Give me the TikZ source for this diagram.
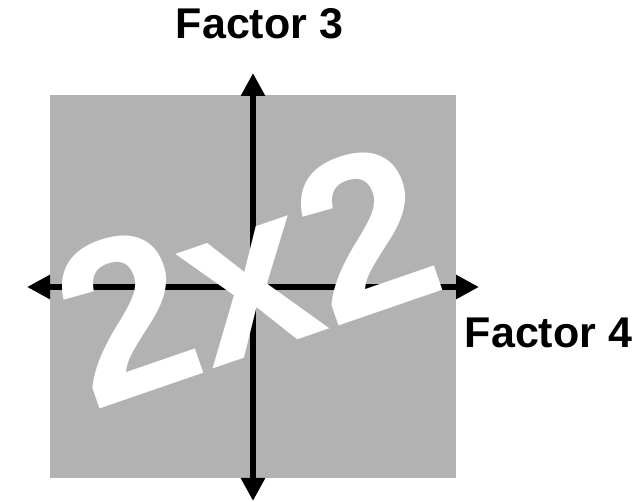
\documentclass[tikz,border=0pt]{standalone}
\usepackage{fontspec}
\setmainfont{Liberation Sans}
\usetikzlibrary{arrows.meta}

\tikzset{
  axis/.style = {line width = 6.5pt,
    {Triangle[length = 23pt, width = 23pt]}-{Triangle[length = 23pt, width = 23pt]}},
  factor/.style = {font = \fontsize{43}{46}\selectfont\bfseries, anchor = base,
    inner sep = 0}
}

\begin{document}
\begin{tikzpicture}[x = 1pt, y = -1pt]
  \useasboundingbox (0, 0) rectangle (641, 502);
  \fill[black!30] (50, 95) rectangle (456, 478);

  \coordinate (N) at (253, 73);
  \coordinate (S) at (253, 501);
  \coordinate (W) at (27, 287);
  \coordinate (E) at (479, 287);
  \draw[axis] (S) -- (N);
  \draw[axis] (W) -- (E);

  \node[factor] (f3) at (259.5, 39) {Factor 3};
  \node[factor] (f4) at (548.5, 348) {Factor 4};

  % tilted label on top of the axes
  \node[white, inner sep = 0, rotate = 19,
  font = \fontsize{228}{236}\selectfont\bfseries] (big) at (246, 274) {2x2};
\end{tikzpicture}
\end{document}
